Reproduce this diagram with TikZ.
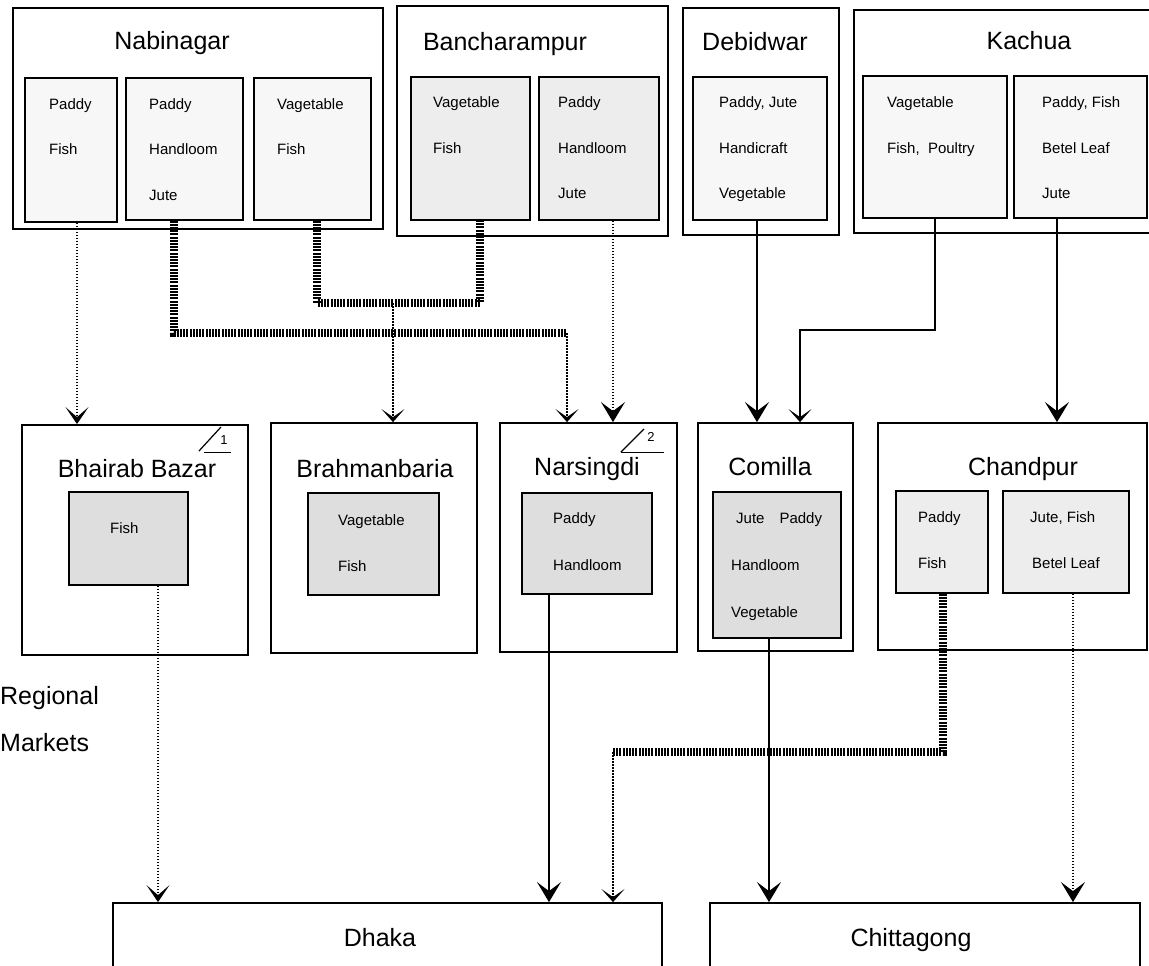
\documentclass[tikz,border=0pt]{standalone}
\usepackage{fontspec}
\setmainfont{Liberation Sans}
\usetikzlibrary{arrows.meta}

\begin{document}
\begin{tikzpicture}[x=1pt,y=-1pt,
  town/.style={draw,line width=1.8pt,inner sep=0pt},
  goodsbox/.style={draw,line width=1.1pt,inner sep=0pt,fill=black!3},
  greybox/.style={goodsbox,fill=black!13},
  lightbox/.style={goodsbox,fill=black!7},
  townname/.style={anchor=base,inner sep=0pt,font=\fontsize{25}{30}\selectfont},
  goods/.style={anchor=base west,inner sep=0pt,font=\fontsize{15}{18}\selectfont},
  solidline/.style={line width=1.8pt},
  dotline/.style={line width=1.4pt,dash pattern=on 1.5pt off 1.5pt},
  hatch/.style={line width=8pt,dash pattern=on 2pt off 1.2pt},
  bigtip/.tip={Stealth[length=20pt,width=24pt,inset=9pt]},
  midtip/.tip={Stealth[length=17pt,width=23pt,inset=10pt]},
  smalltip/.tip={Stealth[length=13pt,width=23pt,inset=8pt]}]
\useasboundingbox (0,0) rectangle (1149,966);

% thanas
\node[town,minimum width=370,minimum height=221] (nabi) at (198,118.5) {};
\node[town,minimum width=271,minimum height=230] (banch) at (532.5,121) {};
\node[town,minimum width=156,minimum height=227] (debid) at (761,121.5) {};
\node[town,minimum width=300,minimum height=223] (kach) at (1004,121.5) {};
\node[townname] (nabiname) at (172,50) {Nabinagar};
\node[townname] (banchname) at (505,51) {Bancharampur};
\node[townname] (debidname) at (755,51) {Debidwar};
\node[townname] (kachname) at (1029,50) {Kachua};

\node[goodsbox,minimum width=92,minimum height=144] (nabi1) at (71,150) {};
\node[goodsbox,minimum width=117,minimum height=142] (nabi2) at (184.5,149) {};
\node[goodsbox,minimum width=117,minimum height=142] (nabi3) at (312.5,149) {};
\node[lightbox,minimum width=119,minimum height=143] (banch1) at (470.5,148.5) {};
\node[lightbox,minimum width=120,minimum height=143] (banch2) at (599,148.5) {};
\node[goodsbox,minimum width=134,minimum height=143] (debid1) at (760,148.5) {};
\node[goodsbox,minimum width=144,minimum height=142] (kach1) at (935,147) {};
\node[goodsbox,minimum width=133,minimum height=142] (kach2) at (1080.5,147) {};

% regional markets
\node[town,minimum width=226,minimum height=230] (bhai) at (135,540) {};
\node[town,minimum width=206,minimum height=230] (brah) at (374,538) {};
\node[town,minimum width=177,minimum height=229] (nars) at (588.5,537.5) {};
\node[town,minimum width=155,minimum height=228] (comi) at (775.5,537) {};
\node[town,minimum width=269,minimum height=227] (chan) at (1012.5,536.5) {};
\node[townname] (bhainame) at (137,477) {Bhairab Bazar};
\node[townname] (brahname) at (375,477) {Brahmanbaria};
\node[townname] (narsname) at (587,475) {Narsingdi};
\node[townname] (cominame) at (770,475) {Comilla};
\node[townname] (channame) at (1023,475) {Chandpur};

\node[greybox,minimum width=119,minimum height=93] (bhai1) at (128.5,538.5) {};
\node[greybox,minimum width=131,minimum height=102] (brah1) at (373.5,544) {};
\node[greybox,minimum width=130,minimum height=101] (nars1) at (587,543.5) {};
\node[greybox,minimum width=128,minimum height=146] (comi1) at (777,565) {};
\node[lightbox,minimum width=92,minimum height=102] (chan1) at (942,542) {};
\node[lightbox,minimum width=126,minimum height=102] (chan2) at (1066,542) {};

% corner marks 1 and 2
\draw[line width=1.2pt] ([shift={(-50,27)}]bhai.north east) -- ([shift={(-28,3)}]bhai.north east);
\draw[line width=1.2pt] ([shift={(-45,28)}]bhai.north east) -- ([shift={(-18,28)}]bhai.north east);
\node[font=\fontsize{13}{15}\selectfont,inner sep=0pt] (mark1) at ([shift={(-25,16)}]bhai.north east) {1};
\draw[line width=1.2pt] ([shift={(-57,30)}]nars.north east) -- ([shift={(-34,7)}]nars.north east);
\draw[line width=1.2pt] ([shift={(-57,30)}]nars.north east) -- ([shift={(-14,30)}]nars.north east);
\node[font=\fontsize{13}{15}\selectfont,inner sep=0pt] (mark2) at ([shift={(-27,15)}]nars.north east) {2};

\node[townname,anchor=base west] (regional) at (0,704) {Regional};
\node[townname,anchor=base west] (markets) at (0,751) {Markets};

% terminal markets
\node[town,minimum width=549,minimum height=82] (dhaka) at (387.5,944) {};
\node[town,minimum width=430,minimum height=82] (chitt) at (925,944) {};
\node[townname] (dhakaname) at (380,946) {Dhaka};
\node[townname] (chittname) at (911,946) {Chittagong};

\foreach \gx/\gy/\gtext [count=\i] in {
  49/110/Paddy, 49/154/Fish,
  149/110/Paddy, 149/154/Handloom, 149/200/Jute,
  277/110/Vagetable, 277/154/Fish,
  433/107/Vagetable, 433/153/Fish,
  558/107/Paddy, 558/153/Handloom, 558/198/Jute,
  719/107/{Paddy, Jute}, 719/153/Handicraft, 719/198/Vegetable,
  887/107/Vagetable, 887/153/{Fish,\ \ Poultry},
  1042/107/{Paddy, Fish}, 1042/153/Betel Leaf, 1042/198/Jute,
  110/533/Fish,
  338/525/Vagetable, 338/571/Fish,
  553/523/Paddy, 553/570/Handloom,
  736/523/Jute\quad{}Paddy, 731/570/Handloom, 731/617/Vegetable,
  918/522/Paddy, 918/568/Fish,
  1030/522/{Jute, Fish}, 1032/568/Betel Leaf}
  \node[goods] (goods\i) at (\gx,\gy) {\gtext};

% where the lines leave the boxes
\coordinate (nabi1out) at ([xshift=6pt]nabi1.south);
\coordinate (nabi2out) at ([xshift=-10.5pt]nabi2.south);
\coordinate (nabi3out) at ([xshift=4.5pt]nabi3.south);
\coordinate (banch1out) at ([xshift=9.5pt]banch1.south);
\coordinate (banch2out) at ([xshift=14pt]banch2.south);
\coordinate (debid1out) at ([xshift=-3pt]debid1.south);
\coordinate (kach1out) at (kach1.south);
\coordinate (kach2out) at ([xshift=-23.5pt]kach2.south);
\coordinate (bhai1out) at ([xshift=29.5pt]bhai1.south);
\coordinate (nars1out) at ([xshift=-38pt]nars1.south);
\coordinate (comi1out) at ([xshift=-8pt]comi1.south);
\coordinate (chan1out) at ([xshift=1pt]chan1.south);
\coordinate (chan2out) at ([xshift=7pt]chan2.south);

\coordinate (highjoin) at (393,303);
\coordinate (lowjoin) at (567,333);
\coordinate (comijoin) at (800,330);
\coordinate (dhakajoin) at (613,752);

\draw[hatch] (nabi3out) |- (banch1out |- highjoin) -- (banch1out);
\draw[hatch] (nabi2out) |- (lowjoin);
\draw[dotline,-midtip] (nabi1out) -- (nabi1out |- bhai.north);
\draw[dotline,-smalltip] (highjoin) -- (highjoin |- brah.north);
\draw[dotline,-smalltip] (lowjoin) -- (lowjoin |- nars.north);
\draw[dotline,-bigtip] (banch2out) -- (banch2out |- nars.north);
\draw[solidline,-bigtip] (debid1out) -- (debid1out |- comi.north);
\draw[solidline,-smalltip] (kach1out) |- (comijoin) -- (comijoin |- comi.north);
\draw[solidline,-bigtip] (kach2out) -- (kach2out |- chan.north);

\draw[dotline,-midtip] (bhai1out) -- (bhai1out |- dhaka.north);
\draw[solidline,-bigtip] (nars1out) -- (nars1out |- dhaka.north);
\draw[hatch] (chan1out) |- (dhakajoin);
\draw[dotline,-smalltip] (dhakajoin) -- (dhakajoin |- dhaka.north);
\draw[solidline,-bigtip] (comi1out) -- (comi1out |- chitt.north);
\draw[dotline,-bigtip] (chan2out) -- (chan2out |- chitt.north);

\end{tikzpicture}
\end{document}
